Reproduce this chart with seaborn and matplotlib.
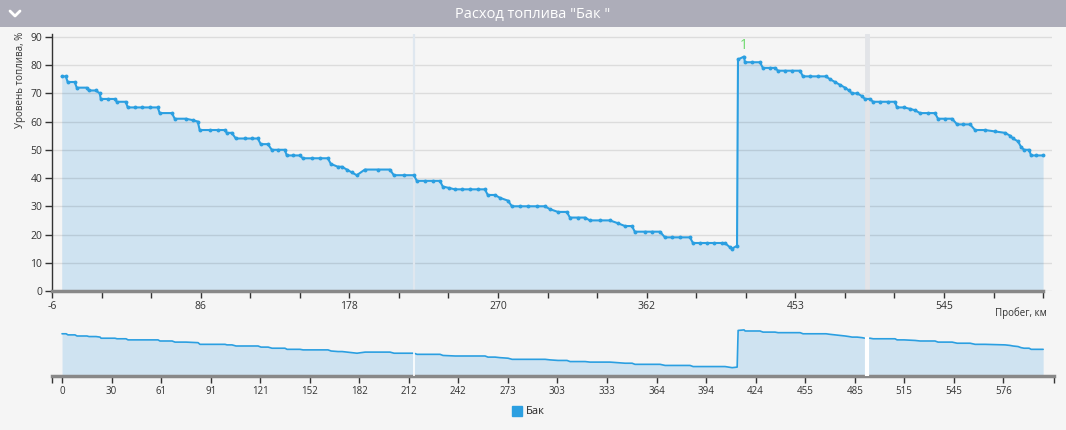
import matplotlib
matplotlib.use("Agg")
import matplotlib.pyplot as plt
from matplotlib.lines import Line2D
from matplotlib.patches import Rectangle
import seaborn as sns
import pandas as pd
import numpy as np

# ---- data -------------------------------------------------------------
mileage_km = [0, 2.5, 3.7, 8.0, 9.3, 15.4, 16.7, 21.0, 23.5, 24.1, 28.4, 32.7, 34.0, 39.5,
              40.8, 45.1, 49.4, 54.4, 59.3, 60.5, 68.0, 69.8, 76.6, 80.9, 84.0, 85.2, 91.4,
              96.4, 100.7, 101.9, 105.0, 107.5, 113.0, 117.4, 121.1, 122.9, 127.3, 129.7,
              133.4, 137.7, 139.0, 142.7, 147.0, 148.9, 154.4, 159.4, 164.3, 166.2, 170.5,
              173.0, 176.0, 179.1, 182.2, 187.2, 195.2, 202.6, 205.1, 211.3, 217.4, 219.3,
              224.2, 229.2, 233.5, 235.3, 239.1, 242.8, 247.1, 252.0, 257.0, 261.3, 263.1,
              267.5, 270.6, 275.5, 278.0, 282.9, 287.8, 293.4, 298.4, 301.4, 306.4, 311.9,
              313.8, 318.7, 323.1, 326.1, 332.3, 338.5, 343.4, 347.8, 352.1, 353.9, 360.1,
              364.4, 369.4, 372.5, 376.8, 381.7, 387.9, 389.8, 394.1, 398.4, 402.8, 407.7,
              409.5, 412.6, 413.9, 417.0, 417.6, 421.3, 421.9, 426.2, 431.1, 433.0, 437.3,
              440.4, 442.3, 446.6, 450.9, 455.9, 457.7, 462.0, 467.0, 471.9, 474.4, 477.5,
              480.6, 483.7, 486.1, 488.0, 491.1, 494.2, 496.0, 499.1, 501.0, 505.3, 510.2,
              514.5, 515.8, 520.1, 523.8, 526.9, 530.0, 534.9, 539.2, 541.1, 545.4, 549.8,
              552.9, 556.6, 560.9, 564.0, 570.1, 576.3, 582.5, 585.6, 587.4, 590.5, 592.4,
              594.2, 597.3, 598.6, 601.6, 606.0]
fuel_pct = [76, 76, 74, 74, 72, 72, 71, 71, 70, 68, 68, 68, 67, 67,
            65, 65, 65, 65, 65, 63, 63, 61, 61, 60.5, 60, 57, 57,
            57, 57, 56, 56, 54, 54, 54, 54, 52, 52, 50,
            50, 50, 48, 48, 48, 47, 47, 47, 47, 45, 44,
            44, 43, 42, 41, 43, 43, 43, 41, 41, 41, 39,
            39, 39, 39, 37, 36.5, 36, 36, 36, 36, 36, 34,
            34, 33, 32, 30, 30, 30, 30, 30, 29, 28, 28,
            26, 26, 26, 25, 25, 25, 24, 23, 23, 21, 21,
            21, 21, 19, 19, 19, 19, 17, 17, 17, 17, 17,
            17, 15.5, 15, 16, 82, 83, 81, 81, 81, 79, 79,
            79, 78, 78, 78, 78, 76, 76, 76, 76, 75, 74,
            73, 72, 71, 70, 70, 69, 68, 68, 67, 67, 67,
            67, 65, 65, 64.5, 64, 63, 63, 63, 61, 61, 61,
            59, 59, 59, 57, 57, 56.5, 56, 55, 54, 53, 51,
            50, 50, 48, 48, 48]
gap_km = [217.4, 497.3]
refuel_label = "1"
refuel_point = (421.3, 83)

main_tick_labels = ["-6", "86", "178", "270", "362", "453", "545"]
nav_tick_labels = ["0", "30", "61", "91", "121", "152", "182", "212", "242", "273",
                   "303", "333", "364", "394", "424", "455", "485", "515", "545", "576"]
tick_step = 30.6

title = 'Расход топлива "Бак "'
y_title = "Уровень топлива, %"
x_title = "Пробег, км"
series_name = "Бак"

df = pd.DataFrame({"km": mileage_km, "fuel": fuel_pct})

# ---- style ------------------------------------------------------------
sns.set_theme(style="white")
plt.rcParams["font.family"] = ["Open Sans", "DejaVu Sans"]

BG = "#f5f5f5"
LINE = "#2b9fe1"
FILL = "#cfe3f1"
TXT = "#333333"

W, H = 1066, 430
fig = plt.figure(figsize=(W / 100, H / 100), dpi=100, facecolor=BG)

# title bar
fig.patches.append(Rectangle((0, 1 - 27 / H), 1, 27 / H, transform=fig.transFigure,
                             facecolor="#adadb9", edgecolor="none", zorder=0))
fig.text(0.5, 1 - 14.5 / H, title, ha="center", va="center", color="white", fontsize=10.5)
fig.add_artist(Line2D([10 / W, 15 / W, 20 / W], [1 - 11 / H, 1 - 16 / H, 1 - 11 / H],
                      transform=fig.transFigure, color="white", lw=2,
                      solid_capstyle="round", solid_joinstyle="round"))

# ---- main axes ----------------------------------------------------------
ax = fig.add_axes([52 / W, (H - 291) / H, 1000 / W, (291 - 34) / H])
ax.set_facecolor(BG)
ax.fill_between(df["km"], df["fuel"], 0, color=FILL, lw=0, zorder=1)
sns.lineplot(data=df, x="km", y="fuel", ax=ax, color=LINE, lw=1.5, marker="o",
             markersize=2.8, markeredgewidth=0, estimator=None, sort=False, zorder=3)
for g, w, c in zip(gap_km, [1.6, 3.5], ["#dfe7ef", "#e2e4e8"]):
    ax.axvline(g, color=c, lw=w, zorder=2)

ax.set_xlim(-6, 611.5)
ax.set_ylim(0, 91)
ax.set_yticks(range(0, 91, 10))
ax.yaxis.grid(True, color="black", alpha=0.1, lw=1)
ax.set_axisbelow("line")
major = [-6 + 3 * k * tick_step for k in range(len(main_tick_labels))]
minor = [-6 + k * tick_step for k in range(21)]
ax.set_xticks(major)
ax.set_xticklabels(main_tick_labels)
ax.set_xticks(minor, minor=True)
ax.tick_params(axis="both", which="both", direction="out", length=5, width=1,
               color=TXT, labelsize=7.5, labelcolor=TXT, pad=2)
ax.tick_params(axis="x", which="both", bottom=True)
ax.tick_params(axis="y", left=True)
for s in ["top", "right"]:
    ax.spines[s].set_visible(False)
ax.spines["left"].set_color(TXT)
ax.spines["left"].set_linewidth(1)
ax.spines["bottom"].set_color("#888888")
ax.spines["bottom"].set_linewidth(2.5)
ax.spines["bottom"].set_bounds(-6, 606)
ax.set_xlabel("")
ax.set_ylabel("")
ax.annotate(refuel_label, refuel_point, xytext=(0, 8), textcoords="offset points",
            ha="center", va="center", color="#6ad96a", fontsize=10)

fig.text(20 / W, 1 - 80 / H, y_title, rotation=90, ha="center", va="center",
         fontsize=7, color=TXT)
fig.text(1047 / W, 1 - 313 / H, x_title, ha="right", va="center", fontsize=7, color=TXT)

# ---- navigator ------------------------------------------------------------
nav = fig.add_axes([52 / W, (H - 376) / H, 1002 / W, 50 / H])
nav.set_facecolor(BG)
nav.fill_between(df["km"], df["fuel"], 0, color=FILL, lw=0, zorder=1)
sns.lineplot(data=df, x="km", y="fuel", ax=nav, color=LINE, lw=1.2,
             estimator=None, sort=False, zorder=3)
for g, w in zip(gap_km, [1.2, 3]):
    top = np.interp(g, mileage_km, fuel_pct) + 2
    nav.vlines(g, 0, top, color="white", lw=w, zorder=4)
nav.set_xlim(-6.2, 612.7)
nav.set_ylim(0, 90)
nav.set_yticks([])
nav.set_xticks([k * tick_step for k in range(len(nav_tick_labels))])
nav.set_xticklabels(nav_tick_labels)
nav.set_xticks([-6.2, 612.7], minor=True)
nav.tick_params(axis="x", which="both", direction="out", length=5, width=1,
                color=TXT, labelsize=7, labelcolor=TXT, pad=2, bottom=True)
for s in ["top", "right", "left"]:
    nav.spines[s].set_visible(False)
nav.spines["bottom"].set_color("#888888")
nav.spines["bottom"].set_linewidth(2.5)
nav.set_xlabel("")
nav.set_ylabel("")

# legend
handle = Line2D([], [], marker="s", color=LINE, lw=0, markersize=7)
fig.legend([handle], [series_name], loc="center", bbox_to_anchor=(528 / W, 1 - 412 / H),
           frameon=False, fontsize=8, handletextpad=0.3, handlelength=1)

fig.savefig("out.png", dpi=100, facecolor=BG)
